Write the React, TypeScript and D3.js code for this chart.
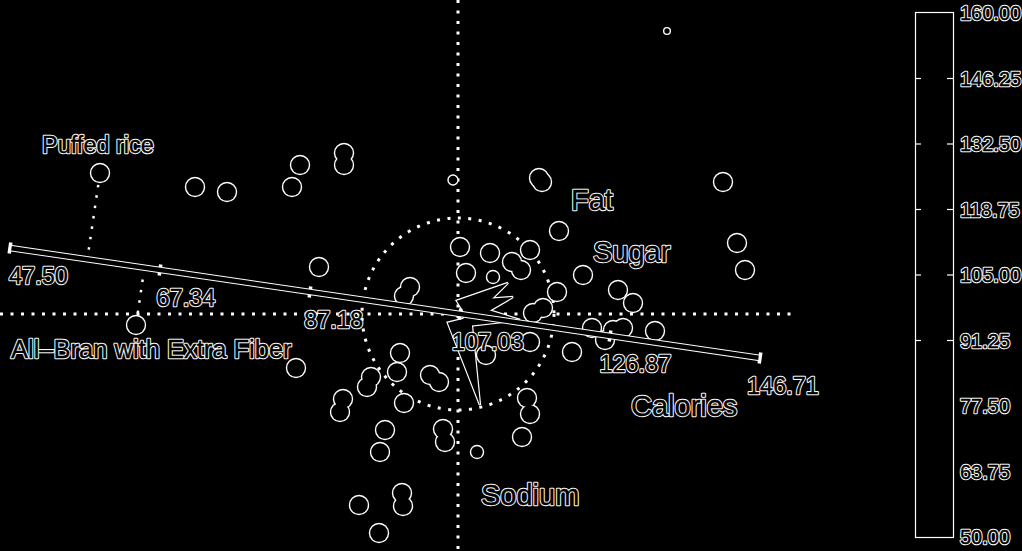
import { useEffect, useRef } from "react";
import * as d3 from "d3";

const WIDTH = 1022;
const HEIGHT = 551;

// component scores of each cereal (PC1, PC2)
const pointX = [
  -3.58, -3.22, -2.63, -2.31, -1.58, -1.66, -1.14, -1.14, -1.39, -1.62,
  -0.05, 0.81, 0.84, 2.65, 1.01, 2.79, 2.87, 1.25, 1.6, 1.75,
  1.97, 1.34, 1.55, 1.65, 1.47, 1.14, 0.72, 0.02, 0.32, 0.72,
  0.54, 0.63, 0.08, 0.35, 0.99, 0.75, 0.85, -0.48, -0.54, -0.58,
  -0.61, -0.87, -0.91, -0.28, -0.19, -0.54, -1.15, -1.18, -0.73, -0.78,
  -0.15, -0.13, 0.19, 0.69, 0.72, 0.64, -0.99, -0.56, -0.55, -0.79,
  2.09, 0.28,
];
const pointY = [
  1.41, -0.11, 1.27, 1.22, 1.49, 1.27, 1.61, 1.49, 0.47, -0.54,
  1.34, 1.36, 1.32, 1.32, 0.83, 0.71, 0.44, 0.39, 0.24, 0.11,
  -0.17, -0.14, -0.16, -0.14, -0.26, -0.38, -0.28, 0.67, 0.61, 0.64,
  0.52, 0.44, 0.41, 0.37, 0.22, 0.01, 0.06, 0.27, 0.18, -0.39,
  -0.58, -0.63, -0.73, -0.61, -0.68, -0.89, -0.85, -0.98, -1.16, -1.38,
  -1.15, -1.28, -1.38, -0.84, -1.0, -1.23, -1.91, -1.79, -1.92, -2.19,
  2.83, -0.41,
];
const pointWeight = [
  1, 1, 1, 1, 1, 1, 1, 1, 1, 1,
  0.25, 1, 1, 1, 1, 1, 1, 1, 1, 1,
  1, 1, 1, 1, 1, 1, 1, 1, 1, 1,
  1, 1, 1, 0.45, 1, 1, 1, 1, 1, 1,
  1, 1, 1, 1, 1, 1, 1, 1, 1, 1,
  1, 1, 0.45, 1, 1, 1, 1, 1, 1, 1,
  0.1, 1,
];
const labelledNames = ["Puffed rice", "All–Bran with Extra Fiber"];
const labelledIndex = [0, 1];
const labelledX = [-4.17, -4.48];
const labelledY = [1.6, -0.45];

// variable loadings
const loadNames = ["Fat", "Sugar", "Sodium", "Calories"];
const loadX = [0.5, 0.55, 0.22, 0.62];
const loadY = [0.31, 0.17, -0.91, -0.06];
const loadLabelX = [1.12, 1.34, 0.22, 1.72];
const loadLabelY = [1.03, 0.51, -1.92, -1.03];

// calibrated Calories axis
const calTicks = [47.5, 67.34, 87.18, 107.03, 126.87, 146.71];
const calStart = [-4.48, 0.66];
const calEnd = [3.02, -0.44];

// colour bar
const cbTicks = [160, 146.25, 132.5, 118.75, 105, 91.25, 77.5, 63.75, 50];

export default function App() {
  const svgRef = useRef<SVGSVGElement>(null);

  useEffect(() => {
    if (!svgRef.current) return;
    const svg = d3.select(svgRef.current);
    svg.selectAll("*").remove();

    const font = "'Liberation Sans', Arial, sans-serif";

    svg
      .append("rect")
      .attr("width", WIDTH)
      .attr("height", HEIGHT)
      .attr("fill", "black");

    const x = d3.scaleLinear().domain([-4.58, 5.64]).range([0, 1022]);
    const y = d3.scaleLinear().domain([3.14, -2.37]).range([0, 551]);
    const unit = x(1) - x(0);

    const g = svg.append("g");

    // hollow-looking text: white halo, black glyph on top
    const outlined = (
      parent: any,
      tx: number,
      ty: number,
      size: number,
      label: string,
      dy = "0"
    ) => {
      const t = parent
        .append("g")
        .attr("font-family", font)
        .attr("font-size", size)
        .attr("opacity", 0.999);
      t.append("text")
        .attr("x", tx)
        .attr("y", ty)
        .attr("dy", dy)
        .attr("fill", "white")
        .attr("stroke", "white")
        .attr("stroke-width", 2.4)
        .attr("stroke-linejoin", "round")
        .text(label);
      t.append("text")
        .attr("x", tx)
        .attr("y", ty)
        .attr("dy", dy)
        .attr("fill", "black")
        .attr("stroke", "black")
        .attr("stroke-width", 0.4)
        .text(label);
    };

    // dotted reference axes
    const dotted = (sel: any) =>
      sel
        .attr("stroke", "white")
        .attr("stroke-width", 3)
        .attr("stroke-dasharray", "3 7.5")
        .attr("fill", "none");

    g.append("line")
      .attr("x1", x(0))
      .attr("x2", x(0))
      .attr("y1", 0)
      .attr("y2", HEIGHT)
      .call(dotted);
    g.append("line")
      .attr("x1", 0)
      .attr("x2", x(3.37))
      .attr("y1", y(0))
      .attr("y2", y(0))
      .call(dotted);
    g.append("circle")
      .attr("cx", x(0))
      .attr("cy", y(0))
      .attr("r", 0.96 * unit)
      .call(dotted);

    // calories axis geometry
    const calX = d3.scaleLinear().domain([47.5, 146.71]).range([calStart[0], calEnd[0]]);
    const calY = d3.scaleLinear().domain([47.5, 146.71]).range([calStart[1], calEnd[1]]);
    const ax0 = [x(calStart[0]), y(calStart[1])];
    const ax1 = [x(calEnd[0]), y(calEnd[1])];
    const len = Math.hypot(ax1[0] - ax0[0], ax1[1] - ax0[1]);
    const ux = (ax1[0] - ax0[0]) / len;
    const uy = (ax1[1] - ax0[1]) / len;

    // projections of labelled cereals onto the calories axis
    labelledIndex.forEach((i) => {
      const px = x(pointX[i]);
      const py = y(pointY[i]);
      const t = (px - ax0[0]) * ux + (py - ax0[1]) * uy;
      const qx = ax0[0] + t * ux;
      const qy = ax0[1] + t * uy;
      const d = Math.hypot(qx - px, qy - py);
      const r = 12;
      g.append("line")
        .attr("x1", px + ((qx - px) / d) * r)
        .attr("y1", py + ((qy - py) / d) * r)
        .attr("x2", qx - ((qx - px) / d) * 7)
        .attr("y2", qy - ((qy - py) / d) * 7)
        .attr("stroke", "white")
        .attr("stroke-width", 2.5)
        .attr("stroke-dasharray", "2.5 8");
    });

    // cereal points: outline pass then fill pass, so overlaps merge
    const rScale = d3.scaleSqrt().domain([0, 1]).range([0, 9]);
    const pts = pointX.map((v, i) => ({ x: v, y: pointY[i], w: pointWeight[i] }));
    g.append("g")
      .selectAll("circle")
      .data(pts)
      .join("circle")
      .attr("cx", (d) => x(d.x))
      .attr("cy", (d) => y(d.y))
      .attr("r", (d) => rScale(d.w))
      .attr("fill", "white")
      .attr("stroke", "white")
      .attr("stroke-width", 2.4);
    g.append("g")
      .selectAll("circle")
      .data(pts)
      .join("circle")
      .attr("cx", (d) => x(d.x))
      .attr("cy", (d) => y(d.y))
      .attr("r", (d) => Math.max(rScale(d.w) - 0.2, 0.8))
      .attr("fill", "black");

    // loading arrows as wedges
    const wedge = (i: number) => {
      const tx = x(loadX[i]);
      const ty = y(loadY[i]);
      const ox = x(0);
      const oy = y(0);
      const l = Math.hypot(tx - ox, ty - oy);
      const nx = -(ty - oy) / l;
      const ny = (tx - ox) / l;
      const w = 12;
      const bx = ox + ((tx - ox) / l) * 6;
      const by = oy + ((ty - oy) / l) * 6;
      return `M${bx + nx * w},${by + ny * w}L${tx},${ty}L${bx - nx * w},${by - ny * w}Z`;
    };
    const wedges = g.append("g");
    loadNames.forEach((_, i) => {
      wedges
        .append("path")
        .attr("d", wedge(i))
        .attr("fill", "white")
        .attr("stroke", "white")
        .attr("stroke-width", 2.4)
        .attr("stroke-linejoin", "miter");
    });
    loadNames.forEach((_, i) => {
      wedges.append("path").attr("d", wedge(i)).attr("fill", "black");
    });

    // calories axis line with ticks
    const axis = g.append("g");
    axis
      .append("line")
      .attr("x1", ax0[0])
      .attr("y1", ax0[1])
      .attr("x2", ax1[0])
      .attr("y2", ax1[1])
      .attr("stroke", "white")
      .attr("stroke-width", 6.5);
    calTicks.forEach((v) => {
      const cx = x(calX(v));
      const cy = y(calY(v));
      axis
        .append("line")
        .attr("x1", cx - uy * 5.5)
        .attr("y1", cy + ux * 5.5)
        .attr("x2", cx + uy * 5.5)
        .attr("y2", cy - ux * 5.5)
        .attr("stroke", "white")
        .attr("stroke-width", 3.5);
    });
    axis
      .append("line")
      .attr("x1", ax0[0] + ux * 1.5)
      .attr("y1", ax0[1] + uy * 1.5)
      .attr("x2", ax1[0] - ux * 1.5)
      .attr("y2", ax1[1] - uy * 1.5)
      .attr("stroke", "black")
      .attr("stroke-width", 4.5);
    calTicks.forEach((v, i) => {
      outlined(axis, x(calX(v)) - 1 - i * 2.4, y(calY(v)) + 36, 23.5, v.toFixed(2));
    });

    // labels for variables and cereals
    loadNames.forEach((name, i) => {
      outlined(g, x(loadLabelX[i]) + 1, y(loadLabelY[i]) - 1, 29, name);
    });
    labelledNames.forEach((name, i) => {
      outlined(g, x(labelledX[i]) + 1, y(labelledY[i]) - 1, i === 0 ? 23.5 : 25.5, name);
    });

    // colour bar
    const cb = d3.scaleLinear().domain([50, 160]).range([537, 13]);
    const bar = svg.append("g");
    bar
      .append("rect")
      .attr("x", 915.5)
      .attr("y", cb(160) - 0.5)
      .attr("width", 38)
      .attr("height", cb(50) - cb(160) + 1)
      .attr("fill", "black")
      .attr("stroke", "white")
      .attr("stroke-width", 1.2);
    cbTicks.forEach((v) => {
      const ty = cb(v);
      if (v > 80 && v < 160) {
        bar
          .append("line")
          .attr("x1", 916)
          .attr("x2", 921)
          .attr("y1", ty)
          .attr("y2", ty)
          .attr("stroke", "white")
          .attr("stroke-width", 1.2);
        bar
          .append("line")
          .attr("x1", 947)
          .attr("x2", 953)
          .attr("y1", ty)
          .attr("y2", ty)
          .attr("stroke", "white")
          .attr("stroke-width", 1.2);
      }
      outlined(bar, 960, ty, 20, v.toFixed(2), "0.36em");
    });
  }, []);

  return (
    <svg
      ref={svgRef}
      width={WIDTH}
      height={HEIGHT}
      style={{ position: "absolute", left: 0, top: 0, display: "block" }}
    />
  );
}
